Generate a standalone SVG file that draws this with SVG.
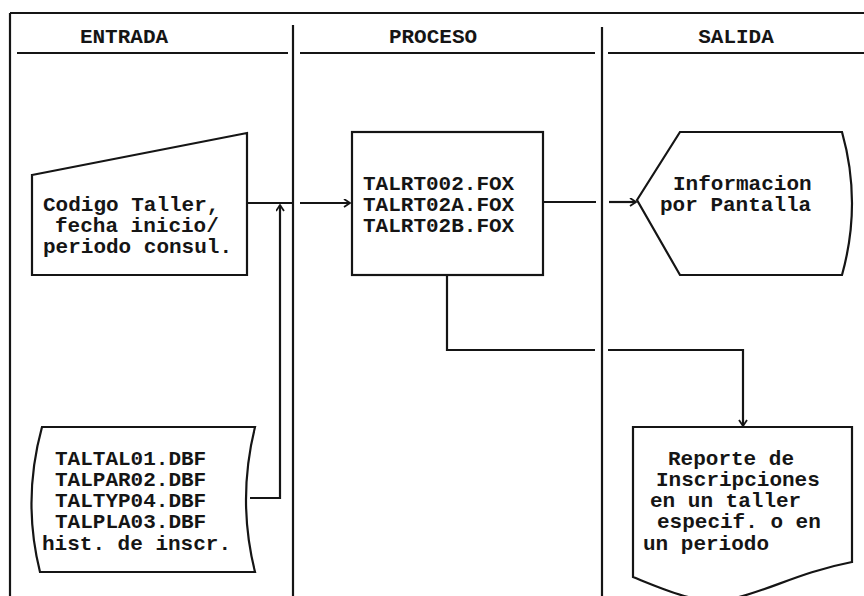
<svg xmlns="http://www.w3.org/2000/svg" width="864" height="596" viewBox="0 0 864 596">
<style>
.ln{fill:none;stroke:#151515;stroke-width:2.2}
.sh{fill:#fff;stroke:#151515;stroke-width:2.2}
.tx{font-family:"Liberation Mono","DejaVu Sans Mono",monospace;font-weight:bold;font-size:21px;fill:#151515}
.hd{font-family:"Liberation Mono","DejaVu Sans Mono",monospace;font-weight:bold;font-size:21px;fill:#151515;text-anchor:middle}
</style>
<defs>
<marker id="arr" markerUnits="userSpaceOnUse" markerWidth="10" markerHeight="10" refX="7" refY="4.5" orient="auto">
<path d="M1,0.5 L7,4.5 L1,8.5" fill="none" stroke="#151515" stroke-width="1.8"/>
</marker>
</defs>
<rect width="864" height="596" fill="#fff"/>
<g id="lanes">
<line class="ln" x1="10" y1="13" x2="864" y2="13"/>
<line class="ln" x1="10" y1="13" x2="10" y2="596"/>
<line class="ln" x1="293" y1="25" x2="293" y2="596"/>
<line class="ln" x1="602" y1="27" x2="602" y2="596"/>
<line class="ln" x1="17" y1="53" x2="288" y2="53"/>
<line class="ln" x1="300" y1="53" x2="595" y2="53"/>
<line class="ln" x1="608" y1="53" x2="864" y2="53"/>
<text class="hd" x="124" y="43">ENTRADA</text>
<text class="hd" x="433" y="43">PROCESO</text>
<text class="hd" x="736" y="43">SALIDA</text>
</g>
<g id="connectors">
<path class="ln" d="M247,203 H292"/>
<path class="ln" d="M300,203 H350" marker-end="url(#arr)"/>
<path class="ln" d="M250,498 H280 V205" marker-end="url(#arr)"/>
<path class="ln" d="M543,202 H596"/>
<path class="ln" d="M609,202 H636" marker-end="url(#arr)"/>
<path class="ln" d="M447,275 V350 H595"/>
<path class="ln" d="M608,350 H743 V426" marker-end="url(#arr)"/>
</g>
<g id="input">
<path class="sh" d="M32,175 L247,133 V275 H32 Z"/>
<text class="tx" x="43" y="211">Codigo Taller,</text>
<text class="tx" x="55" y="232">fecha inicio/</text>
<text class="tx" x="43" y="253">periodo consul.</text>
</g>
<g id="process">
<rect class="sh" x="352" y="132" width="191" height="143"/>
<text class="tx" x="363" y="190">TALRT002.FOX</text>
<text class="tx" x="363" y="211">TALRT02A.FOX</text>
<text class="tx" x="363" y="232">TALRT02B.FOX</text>
</g>
<g id="display">
<path class="sh" d="M637,200 L680,132 H842 Q862,203 842,275 H680 Z"/>
<text class="tx" x="673" y="190">Informacion</text>
<text class="tx" x="660" y="211">por Pantalla</text>
</g>
<g id="datastore">
<path class="sh" d="M42,427 H255 Q237,500 255,572 H40 Q22,500 42,427 Z"/>
<text class="tx" x="55" y="465">TALTAL01.DBF</text>
<text class="tx" x="55" y="486">TALPAR02.DBF</text>
<text class="tx" x="55" y="507">TALTYP04.DBF</text>
<text class="tx" x="55" y="528">TALPLA03.DBF</text>
<text class="tx" x="42" y="550">hist. de inscr.</text>
</g>
<g id="report">
<path class="sh" d="M633,427 H852 V562 C800,572 770,590 735,598 C700,606 670,592 633,577 Z"/>
<text class="tx" x="668" y="465">Reporte de</text>
<text class="tx" x="656" y="486">Inscripciones</text>
<text class="tx" x="650" y="507">en un taller</text>
<text class="tx" x="657" y="528">especif. o en</text>
<text class="tx" x="643" y="550">un periodo</text>
</g>
</svg>
